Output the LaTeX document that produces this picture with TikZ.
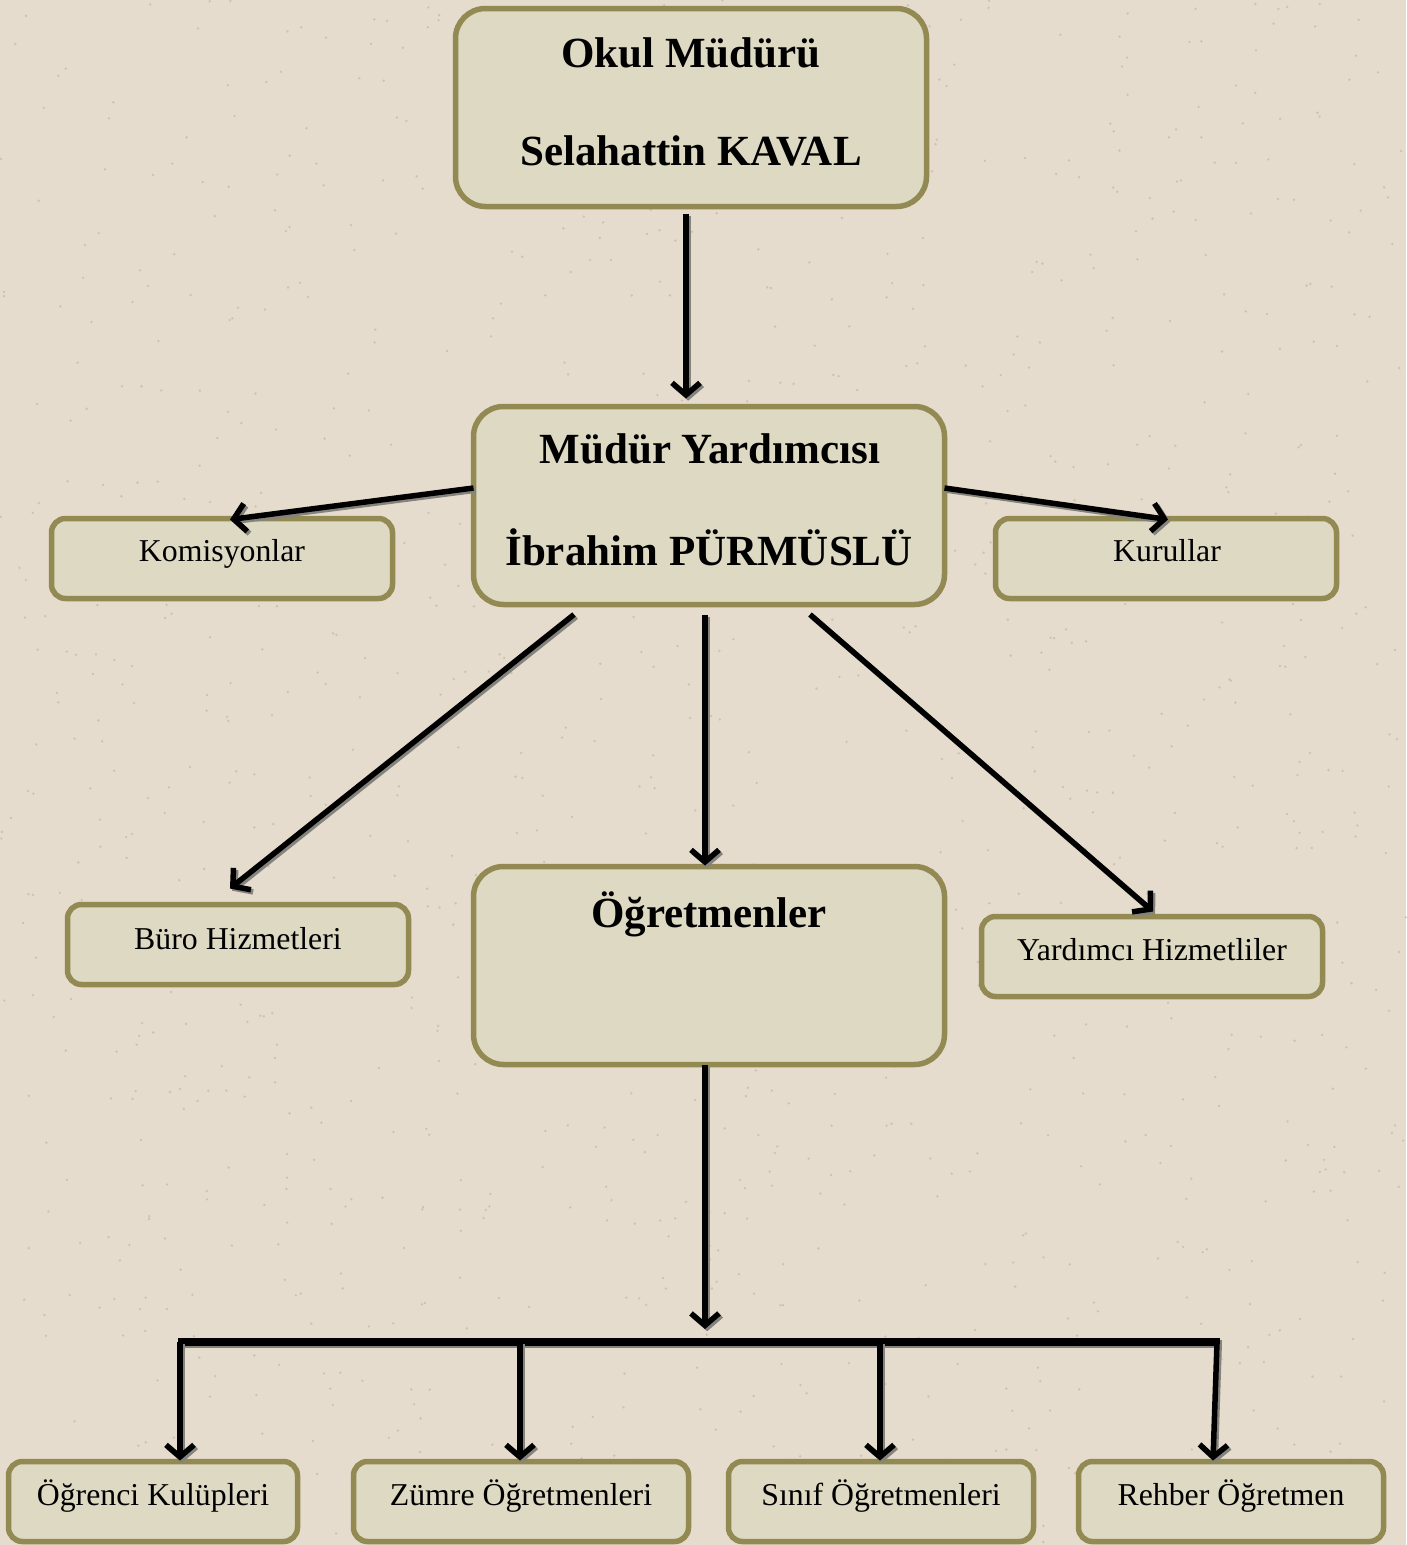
\documentclass[tikz,border=0pt]{standalone}
\usepackage{fontspec}
\setmainfont{Liberation Serif}
\usetikzlibrary{arrows.meta}
\definecolor{bgc}{HTML}{E5DCCD}
\definecolor{dotc}{HTML}{CBC2B2}
\definecolor{boxfill}{HTML}{DDD9C3}
\definecolor{boxline}{HTML}{938953}
\definecolor{shadowc}{HTML}{85837D}
\begin{document}
\begin{tikzpicture}[x=1pt,y=-1pt,
  box/.style={draw=boxline, fill=boxfill, line width=5.5pt, rounded corners=#1, inner sep=0pt, outer sep=0pt},
  box/.default=14pt,
  bigbox/.style={box=30pt, minimum width=471pt, minimum height=198pt},
  smallbox/.style={box=14pt, minimum height=80pt},
  boldtxt/.style={font=\fontsize{43}{50}\selectfont\bfseries, anchor=base, inner sep=0pt},
  normtxt/.style={font=\fontsize{31.8}{38}\selectfont, anchor=base, inner sep=0pt},
  conn/.style={line width=5.5pt, -{Straight Barb[length=12pt,width=28pt,line width=5.5pt]},
    preaction={draw=shadowc, line width=5.5pt, transform canvas={shift={(2.2pt,-2.2pt)}}}},
  barline/.style={line width=8.5pt,
    preaction={draw=shadowc, line width=8.5pt, transform canvas={shift={(2.2pt,-2.2pt)}}}}
]
\useasboundingbox (0,0) rectangle (1406,1545);
\fill[bgc] (0,0) rectangle (1406,1545);
\pgfmathsetseed{4242}
\foreach \i in {1,...,1200} {
  \fill[dotc] ({rnd*1406},{rnd*1545}) circle (1.3pt);
}

% boxes
\node[bigbox] (mud) at (691,107.5) {};
\node[bigbox] (yar) at (709,505.5) {};
\node[bigbox] (ogr) at (709,965.5) {};
\node[smallbox, minimum width=341pt] (kom) at (222,558.5) {};
\node[smallbox, minimum width=341pt] (kur) at (1166,558.5) {};
\node[smallbox, minimum width=341pt] (buro) at (238,944.5) {};
\node[smallbox, minimum width=341pt] (yrd) at (1152,956.5) {};
\node[smallbox, minimum width=289pt] (okl) at (153,1501.5) {};
\node[smallbox, minimum width=335pt] (zum) at (521,1501.5) {};
\node[smallbox, minimum width=305pt] (sin) at (881,1501.5) {};
\node[smallbox, minimum width=305pt] (reh) at (1231,1501.5) {};

% texts
\node[boldtxt] (t1) at (691,67) {Okul Müdürü};
\node[boldtxt] (t2) at (691,165) {Selahattin KAVAL};
\node[boldtxt] (t3) at (710,463) {Müdür Yardımcısı};
\node[boldtxt] (t4) at (709,565) {İbrahim PÜRMÜSLÜ};
\node[boldtxt] (t5) at (709,927) {Öğretmenler};
\node[normtxt] (t6) at (222,561) {Komisyonlar};
\node[normtxt] (t7) at (1167,561) {Kurullar};
\node[normtxt] (t8) at (238,949) {Büro Hizmetleri};
\node[normtxt] (t9) at (1152,960) {Yardımcı Hizmetliler};
\node[normtxt] (t10) at (153,1505) {Öğrenci Kulüpleri};
\node[normtxt] (t11) at (521,1505) {Zümre Öğretmenleri};
\node[normtxt] (t12) at (881,1505) {Sınıf Öğretmenleri};
\node[normtxt] (t13) at (1231,1505) {Rehber Öğretmen};

% connectors
\draw[conn] ([xshift=-5pt,yshift=-7pt]mud.south) -- ([xshift=-23pt,yshift=8pt]yar.north);
\draw[conn] ([yshift=17.5pt]yar.west) -- ([xshift=8pt,yshift=-1pt]kom.north);
\draw[conn] ([yshift=17.5pt]yar.east) -- ([xshift=2pt,yshift=-1pt]kur.north);
\draw[conn] ([xshift=-135pt,yshift=-10pt]yar.south) -- ([xshift=-8pt,yshift=16pt]buro.north);
\draw[conn] ([xshift=-4pt,yshift=-10pt]yar.south) -- ([xshift=-4pt,yshift=1pt]ogr.north);
\draw[conn] ([xshift=101pt,yshift=-10pt]yar.south) -- ([xshift=1pt,yshift=5pt]yrd.north);

\coordinate (barmid) at (705,1329);
\coordinate (b1) at (180,1342);
\coordinate (b2) at (520,1342);
\coordinate (b3) at (880,1342);
\coordinate (b4) at (1217,1342);
\draw[conn] ([xshift=-4pt]ogr.south) -- (barmid);
\draw[barline] ([xshift=-2.5pt]b1) -- ([xshift=2.5pt]b4);
\draw[conn] (b1) -- ([xshift=27pt,yshift=1pt]okl.north);
\draw[conn] (b2) -- ([xshift=-1pt,yshift=1pt]zum.north);
\draw[conn] (b3) -- ([xshift=-1pt,yshift=1pt]sin.north);
\draw[conn] (b4) -- ([xshift=-18pt,yshift=1pt]reh.north);
\end{tikzpicture}
\end{document}
